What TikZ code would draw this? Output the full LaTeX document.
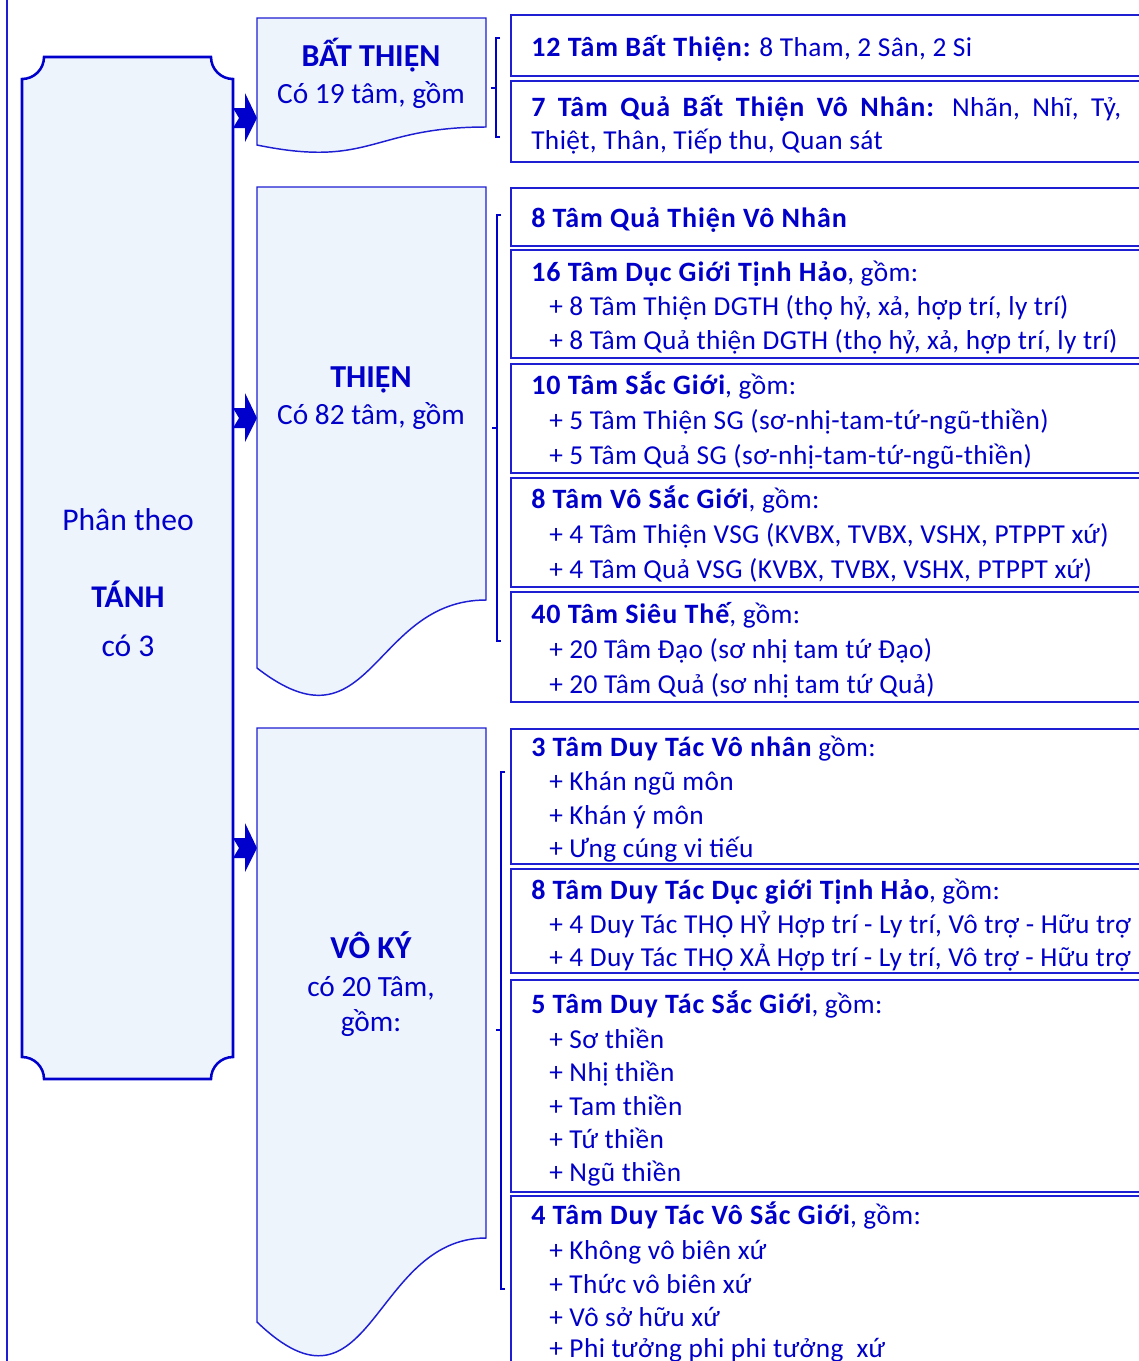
\documentclass[tikz,border=0pt]{standalone}
\usepackage{fontspec}
\setmainfont{Carlito}
\definecolor{txtblue}{RGB}{0,0,200}
\definecolor{lineblue}{RGB}{30,30,210}
\definecolor{fillblue}{RGB}{238,244,252}
\definecolor{arrblue}{RGB}{0,0,204}
\newfontfamily\rnorm[LetterSpace=1.5]{Carlito}
\newfontfamily\rbold[LetterSpace=3.3]{Carlito Bold}
\newcommand{\rfont}{\rnorm\fontsize{20.5pt}{24pt}\selectfont}
\newcommand{\hb}[1]{{\rbold\fontsize{21pt}{24pt}\selectfont #1}}
\newcommand{\lfont}{\fontsize{22pt}{26pt}\selectfont}
\newcommand{\pfont}{\fontsize{23.7pt}{28pt}\selectfont}
\newcommand{\db}[1]{{\fontsize{24pt}{28pt}\selectfont\bfseries #1}}
\begin{document}
\begin{tikzpicture}[x=0.75pt,y=-0.75pt,
  plaque/.style={draw=arrblue, fill=fillblue, line width=1.9pt},
  docshape/.style={draw=lineblue, fill=fillblue, line width=1.1pt},
  rbox/.style={draw=lineblue, line width=1.1pt},
  brk/.style={draw=arrblue, line width=1.6pt},
  arr/.style={fill=arrblue, draw=none},
  edge/.style={draw=lineblue, line width=1.5pt},
  rt/.style={anchor=base west, text=txtblue, font=\rfont, inner sep=0pt},
  lt/.style={anchor=base, text=txtblue, font=\lfont, inner sep=0pt},
  pt/.style={anchor=base, text=txtblue, font=\pfont, inner sep=0pt}]
\useasboundingbox (0,0) rectangle (1139,1361);
\clip (0,0) rectangle (1139,1361);
% outer left line
\coordinate (edgeTop) at (7,0);
\coordinate (edgeBot) at (7,1361);
\draw[edge] (edgeTop) -- (edgeBot);
% left plaque
\path[plaque] (44,57) -- (211,57) .. controls (211,69.15) and (220.85,79) .. (233,79)
  -- (233,1057) .. controls (220.85,1057) and (211,1066.85) .. (211,1079)
  -- (44,1079) .. controls (44,1066.85) and (34.15,1057) .. (22,1057)
  -- (22,79) .. controls (34.15,79) and (44,69.15) .. (44,57) -- cycle;
\node[pt] (p1) at (128,530) {Phân theo};
\node[pt] (p2) at (128,607) {\bfseries TÁNH};
\node[pt] (p3) at (128,656) {có 3};
% block arrows
\foreach \yy in {118,418,848} {
  \path[arr] (233,\yy-10) -- (245,\yy-10) -- (245,\yy-25) -- (257,\yy) -- (245,\yy+24)
    -- (245,\yy+10) -- (233,\yy+10) -- (239,\yy) -- cycle;
}
% document shapes
\path[docshape] (257,18) -- (486,18) -- (486,127) .. controls (371.5,127) and (371.5,168.6) .. (257,145) -- cycle;
\path[docshape] (257,187) -- (486,187) -- (486,600) .. controls (371.5,600) and (371.5,757) .. (257,668) -- cycle;
\path[docshape] (257,728) -- (486,728) -- (486,1238) .. controls (371.5,1238) and (371.5,1432) .. (257,1322) -- cycle;
\node[lt] (d1a) at (371,66) {\db{BẤT THIỆN}};
\node[lt] (d1b) at (371,103) {Có 19 tâm, gồm};
\node[lt] (d2a) at (371,387) {\db{THIỆN}};
\node[lt] (d2b) at (371,424) {Có 82 tâm, gồm};
\node[lt] (d3a) at (371,958) {\db{VÔ KÝ}};
\node[lt] (d3b) at (371,996) {có 20 Tâm,};
\node[lt] (d3c) at (371,1031) {gồm:};
% brackets
\draw[brk] (500,38) -- (496,38) -- (496,137) -- (500,137);
\draw[brk] (496,88) -- (491,88);
\draw[brk] (501,215) -- (497,215) -- (497,641) -- (501,641);
\draw[brk] (497,428) -- (492,428);
\draw[brk] (505,772) -- (501,772) -- (501,1289) -- (505,1289);
\draw[brk] (501,1030) -- (496,1030);
% right boxes
\draw[rbox] (511,15) rectangle (1150,76);
\draw[rbox] (511,81) rectangle (1150,162);
\draw[rbox] (511,188) rectangle (1150,246);
\draw[rbox] (511,250) rectangle (1150,358);
\draw[rbox] (511,364) rectangle (1150,473);
\draw[rbox] (511,478) rectangle (1150,587);
\draw[rbox] (511,592) rectangle (1150,702);
\draw[rbox] (511,729) rectangle (1150,864);
\draw[rbox] (511,869) rectangle (1150,973);
\draw[rbox] (511,980) rectangle (1150,1192);
\draw[rbox] (511,1196) rectangle (1150,1420);
% right texts
\node[rt] (t1) at (531,56) {\hb{12 Tâm Bất Thiện:} 8 Tham, 2 Sân, 2 Si};
\node[rt] (t2a) at (531,116) {\makebox[442.5pt][s]{\hb{7 Tâm Quả Bất Thiện Vô Nhân:} Nhãn, Nhĩ, Tỷ,}};
\node[rt] (t2b) at (531,149) {Thiệt, Thân, Tiếp thu, Quan sát};
\node[rt] (t3) at (531,227) {\hb{8 Tâm Quả Thiện Vô Nhân}};
\node[rt] (t4a) at (531,281) {\hb{16 Tâm Dục Giới Tịnh Hảo}, gồm:};
\node[rt] (t4b) at (549,315) {+ 8 Tâm Thiện DGTH (thọ hỷ, xả, hợp trí, ly trí)};
\node[rt] (t4c) at (549,349) {+ 8 Tâm Quả thiện DGTH (thọ hỷ, xả, hợp trí, ly trí)};
\node[rt] (t5a) at (531,394) {\hb{10 Tâm Sắc Giới}, gồm:};
\node[rt] (t5b) at (549,429) {+ 5 Tâm Thiện SG (sơ-nhị-tam-tứ-ngũ-thiền)};
\node[rt] (t5c) at (549,464) {+ 5 Tâm Quả SG (sơ-nhị-tam-tứ-ngũ-thiền)};
\node[rt] (t6a) at (531,508) {\hb{8 Tâm Vô Sắc Giới}, gồm:};
\node[rt] (t6b) at (549,543) {+ 4 Tâm Thiện VSG (KVBX, TVBX, VSHX, PTPPT xứ)};
\node[rt] (t6c) at (549,578) {+ 4 Tâm Quả VSG (KVBX, TVBX, VSHX, PTPPT xứ)};
\node[rt] (t7a) at (531,623) {\hb{40 Tâm Siêu Thế}, gồm:};
\node[rt] (t7b) at (549,658) {+ 20 Tâm Đạo (sơ nhị tam tứ Đạo)};
\node[rt] (t7c) at (549,693) {+ 20 Tâm Quả (sơ nhị tam tứ Quả)};
\node[rt] (t8a) at (531,756) {\hb{3 Tâm Duy Tác Vô nhân} gồm:};
\node[rt] (t8b) at (549,790) {+ Khán ngũ môn};
\node[rt] (t8c) at (549,824) {+ Khán ý môn};
\node[rt] (t8d) at (549,857) {+ Ưng cúng vi tiếu};
\node[rt] (t9a) at (531,899) {\hb{8 Tâm Duy Tác Dục giới Tịnh Hảo}, gồm:};
\node[rt] (t9b) at (549,933) {+ 4 Duy Tác THỌ HỶ Hợp trí - Ly trí, Vô trợ - Hữu trợ};
\node[rt] (t9c) at (549,966) {+ 4 Duy Tác THỌ XẢ Hợp trí - Ly trí, Vô trợ - Hữu trợ};
\node[rt] (t10a) at (531,1013) {\hb{5 Tâm Duy Tác Sắc Giới}, gồm:};
\node[rt] (t10b) at (549,1048) {+ Sơ thiền};
\node[rt] (t10c) at (549,1081) {+ Nhị thiền};
\node[rt] (t10d) at (549,1115) {+ Tam thiền};
\node[rt] (t10e) at (549,1148) {+ Tứ thiền};
\node[rt] (t10f) at (549,1181) {+ Ngũ thiền};
\node[rt] (t11a) at (531,1224) {\hb{4 Tâm Duy Tác Vô Sắc Giới}, gồm:};
\node[rt] (t11b) at (549,1259) {+ Không vô biên xứ};
\node[rt] (t11c) at (549,1293) {+ Thức vô biên xứ};
\node[rt] (t11d) at (549,1326) {+ Vô sở hữu xứ};
\node[rt] (t11e) at (549,1357) {+ Phi tưởng phi phi tưởng\ \ xứ};
\end{tikzpicture}
\end{document}
